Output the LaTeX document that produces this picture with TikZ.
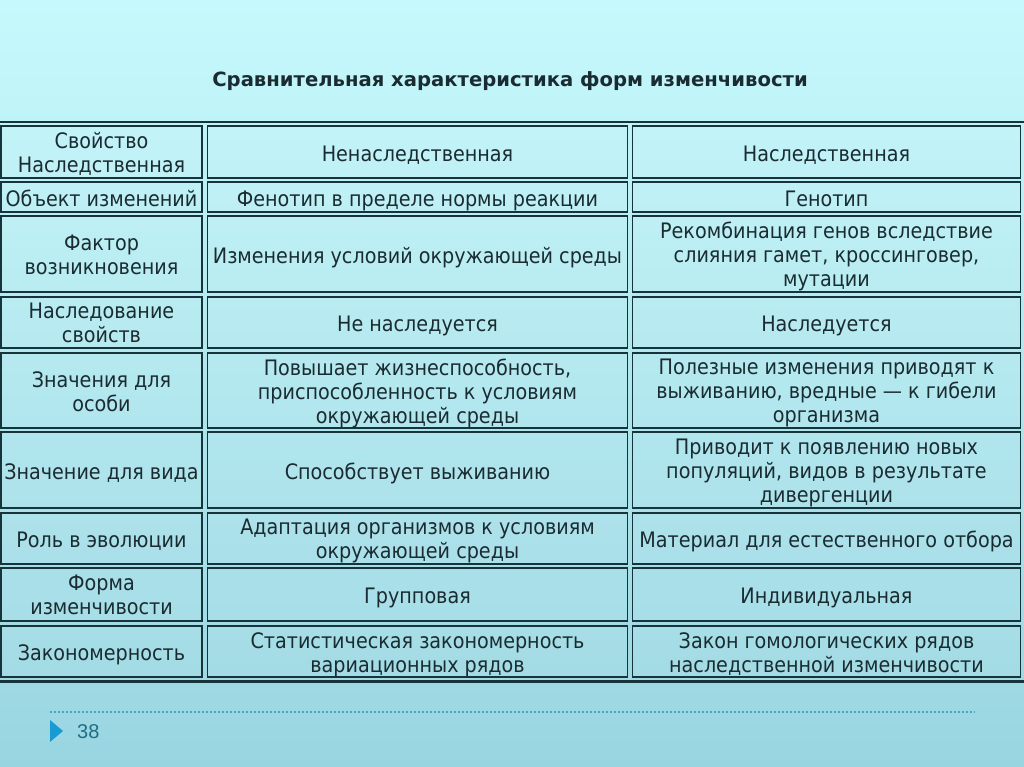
\documentclass[tikz,border=0pt]{standalone}
\usepackage{fontspec}
\setmainfont{DejaVu Sans}
\newfontfamily\cellfont{DejaVu Sans}[FakeStretch=0.9]
\newfontfamily\numfont{Liberation Sans}
\definecolor{bgtop}{HTML}{C6F9FC}
\definecolor{bgbot}{HTML}{99D5E1}
\definecolor{cellline}{HTML}{17343A}
\definecolor{txt}{HTML}{1A2C31}
\definecolor{footdot}{HTML}{45A6C6}
\definecolor{tri}{HTML}{1A9AD2}
\definecolor{numcol}{HTML}{1F6E86}
\tikzset{
  cell/.style={draw=cellline, line width=1.5pt, fill=white, fill opacity=0.06, inner sep=0pt},
  ctext/.style={text=txt, text opacity=1, fill opacity=1, align=center, inner sep=0pt,
    font=\cellfont\fontsize{21.3}{24}\selectfont, yshift=-4.3pt,
    execute at begin node=\strut, execute at end node=\strut},
  ca/.style={cell, minimum width=201pt},
  cb/.style={cell, minimum width=420pt},
  cc/.style={cell, minimum width=388pt},
}
\begin{document}
\begin{tikzpicture}[x=1pt,y=-1pt]
\useasboundingbox (0,0) rectangle (1024,767);
\shade[top color=bgtop, bottom color=bgbot] (0,0) rectangle (1024,767);
\node[text=txt, font=\fontsize{19.6}{24}\selectfont\bfseries] (title) at (510,81) {Сравнительная характеристика форм изменчивости};
\coordinate (tl) at (0,122); \coordinate (tr) at (1024,122);
\draw[cellline, line width=1.2pt] (tl) -- (tr);
\coordinate (bl) at (0,681.5); \coordinate (br) at (1024,681.5);
\draw[cellline, line width=2.5pt] (bl) -- (br);
% row 1
\node[ca, minimum height=52pt, label={[ctext]center:{Свойство\\Наследственная}}] (a1) at (101.5,152) {};
\node[cb, minimum height=52pt, label={[ctext]center:{Ненаследственная}}] (b1) at (417.5,152) {};
\node[cc, minimum height=52pt, label={[ctext]center:{Наследственная}}] (c1) at (826.5,152) {};
% row 2
\node[ca, minimum height=30pt, label={[ctext]center:{Объект изменений}}] (a2) at (101.5,197) {};
\node[cb, minimum height=30pt, label={[ctext]center:{Фенотип в пределе нормы реакции}}] (b2) at (417.5,197) {};
\node[cc, minimum height=30pt, label={[ctext]center:{Генотип}}] (c2) at (826.5,197) {};
% row 3
\node[ca, minimum height=76pt, label={[ctext]center:{Фактор\\возникновения}}] (a3) at (101.5,254) {};
\node[cb, minimum height=76pt, label={[ctext]center:{Изменения условий окружающей среды}}] (b3) at (417.5,254) {};
\node[cc, minimum height=76pt, label={[ctext]center:{Рекомбинация генов вследствие\\слияния гамет, кроссинговер,\\мутации}}] (c3) at (826.5,254) {};
% row 4
\node[ca, minimum height=51pt, label={[ctext]center:{Наследование\\свойств}}] (a4) at (101.5,322.5) {};
\node[cb, minimum height=51pt, label={[ctext]center:{Не наследуется}}] (b4) at (417.5,322.5) {};
\node[cc, minimum height=51pt, label={[ctext]center:{Наследуется}}] (c4) at (826.5,322.5) {};
% row 5
\node[ca, minimum height=75pt, label={[ctext]center:{Значения для\\особи}}] (a5) at (101.5,390.5) {};
\node[cb, minimum height=75pt, label={[ctext]center:{Повышает жизнеспособность,\\приспособленность к условиям\\окружающей среды}}] (b5) at (417.5,390.5) {};
\node[cc, minimum height=75pt, label={[ctext]center:{Полезные изменения приводят к\\выживанию, вредные — к гибели\\организма}}] (c5) at (826.5,390.5) {};
% row 6
\node[ca, minimum height=76pt, label={[ctext]center:{Значение для вида}}] (a6) at (101.5,470) {};
\node[cb, minimum height=76pt, label={[ctext]center:{Способствует выживанию}}] (b6) at (417.5,470) {};
\node[cc, minimum height=76pt, label={[ctext]center:{Приводит к появлению новых\\популяций, видов в результате\\дивергенции}}] (c6) at (826.5,470) {};
% row 7
\node[ca, minimum height=51pt, label={[ctext]center:{Роль в эволюции}}] (a7) at (101.5,538.5) {};
\node[cb, minimum height=51pt, label={[ctext]center:{Адаптация организмов к условиям\\окружающей среды}}] (b7) at (417.5,538.5) {};
\node[cc, minimum height=51pt, label={[ctext]center:{Материал для естественного отбора}}] (c7) at (826.5,538.5) {};
% row 8
\node[ca, minimum height=53pt, label={[ctext]center:{Форма\\изменчивости}}] (a8) at (101.5,594.5) {};
\node[cb, minimum height=53pt, label={[ctext]center:{Групповая}}] (b8) at (417.5,594.5) {};
\node[cc, minimum height=53pt, label={[ctext]center:{Индивидуальная}}] (c8) at (826.5,594.5) {};
% row 9
\node[ca, minimum height=51pt, label={[ctext]center:{Закономерность}}] (a9) at (101.5,651.5) {};
\node[cb, minimum height=51pt, label={[ctext]center:{Статистическая закономерность\\вариационных рядов}}] (b9) at (417.5,651.5) {};
\node[cc, minimum height=51pt, label={[ctext]center:{Закон гомологических рядов\\наследственной изменчивости}}] (c9) at (826.5,651.5) {};
% footer
\coordinate (dl) at (50,712); \coordinate (dr) at (975,712);
\draw[footdot, line width=1.2pt, dash pattern=on 2pt off 2pt] (dl) -- (dr);
\fill[tri] (50,720) -- (63,731) -- (50,742) -- cycle;
\node[text=numcol, font=\numfont\fontsize{20}{24}\selectfont, anchor=west, inner sep=0pt] (num) at (77,732) {38};
\end{tikzpicture}
\end{document}
